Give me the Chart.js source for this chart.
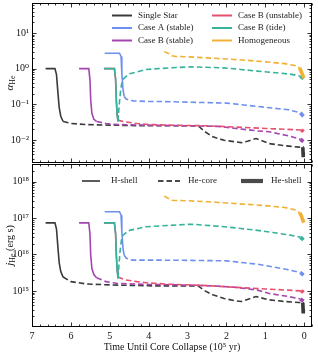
<!DOCTYPE html>
<html><head><meta charset="utf-8">
<script src="https://cdn.jsdelivr.net/npm/chart.js@4.4.0/dist/chart.umd.min.js"></script>
<style>
html,body{margin:0;padding:0;background:#fff;width:318px;height:356px;overflow:hidden}
canvas{position:absolute;left:0;top:0}
</style></head><body>
<canvas id="c1" width="318" height="356"></canvas>
<canvas id="c2" width="318" height="356"></canvas>
<script>
// ---------------- data (time in 1e5 yr until core collapse) ----------------
const seriesNames = ['Single Star','Case A (stable)','Case B (stable)','Case B (unstable)','Case B (tide)','Homogeneous'];
const phaseNames = ['H-shell','He-core','He-shell'];
const xTickValues = [0,1,2,3,4,5,6,7];

// Single star
const tSingleH = [6.65,6.41,6.37,6.33,6.30,6.26,6.20];
const aSingleH = [1,1,0.68,0.19,0.08,0.046,0.033];
const jSingleH = [7.4e16,7.4e16,5e16,1.4e16,5.9e15,3.4e15,2.4e15];
const tSingleC = [6.20,6.0,5.6,5.0,4.0,3.2,2.73,2.55,2.35,2.06,1.75,1.62,1.46,1.24,0.9,0.5,0.13,0.05];
const aSingleC = [0.033,0.029,0.027,0.026,0.025,0.025,0.025,0.017,0.0122,0.0098,0.0088,0.0084,0.0092,0.011,0.0079,0.0069,0.0063,0.0062];
const jSingleC = [2.4e15,1.8e15,1.55e15,1.46e15,1.38e15,1.37e15,1.37e15,1.0e15,7.8e14,6.2e14,5.3e14,5.1e14,5.8e14,7e14,5.7e14,5.1e14,4.8e14,4.7e14];
const tSingleS = [0.05,0.035,0.03,0.025];
const aSingleS = [0.0062,0.006,0.0045,0.0033];
const jSingleS = [4.7e14,4.5e14,3.2e14,2.4e14];

// Case A (stable)
const tCaseAH = [5.13,4.75,4.71,4.69,4.66,4.63];
const aCaseAH = [2.7,2.7,2.2,0.76,0.26,0.166];
const jCaseAH = [1.5e17,1.5e17,1.2e17,4.2e16,1.45e16,9.6e15];
const tCaseAC = [4.63,4.58,4.5,4.4,4.0,3.7,3.0,2.0,1.2,0.4,0.1];
const aCaseAC = [0.166,0.14,0.13,0.125,0.12,0.12,0.115,0.108,0.087,0.07,0.058];
const jCaseAC = [9.6e15,8e15,7.3e15,7e15,7e15,7e15,6.9e15,6.7e15,5.4e15,3.8e15,3.2e15];
const tCaseAS = [0.1,0.05,0.02];
const aCaseAS = [0.058,0.05,0.046];
const jCaseAS = [3.2e15,2.9e15,2.7e15];

// Case B (stable)
const tCaseBsH = [5.79,5.54,5.51,5.49,5.46,5.41,5.34];
const aCaseBsH = [1,1,0.5,0.13,0.056,0.038,0.033];
const jCaseBsH = [7.4e16,7.4e16,3.7e16,9.6e15,4.1e15,2.8e15,2.3e15];
const tCaseBsC = [5.34,5.1,4.8,4.0,3.0,2.2,1.75,1.2,0.9,0.4,0.1];
const aCaseBsC = [0.033,0.029,0.027,0.026,0.025,0.024,0.021,0.018,0.017,0.013,0.0105];
const jCaseBsC = [2.3e15,1.8e15,1.6e15,1.5e15,1.45e15,1.35e15,1.25e15,1.05e15,8.5e14,7e14,6e14];
const tCaseBsS = [0.1,0.05,0.02];
const aCaseBsS = [0.0105,0.0095,0.009];
const jCaseBsS = [6e14,5.5e14,5.2e14];

// Case B (unstable)
const tCaseBuH = [5.15,4.88,4.85,4.83,4.81,4.79];
const aCaseBuH = [1,1,0.5,0.12,0.05,0.036];
const jCaseBuH = [7.4e16,7.4e16,3.7e16,8.9e15,3.7e15,2.6e15];
const tCaseBuC = [4.79,4.6,4.3,4.0,3.46,2.5,1.75,1.0,0.5,0.08];
const aCaseBuC = [0.036,0.032,0.029,0.027,0.026,0.025,0.023,0.021,0.020,0.019];
const jCaseBuC = [2.4e15,2.0e15,1.8e15,1.65e15,1.52e15,1.4e15,1.25e15,1.13e15,1.06e15,1.0e15];
const tCaseBuS = [0.08,0.04,0.02];
const aCaseBuS = [0.019,0.018,0.017];
const jCaseBuS = [1.0e15,9.5e14,9e14];

// Case B (tide)
const tTideH = [5.15,4.88,4.85,4.83,4.81,4.79];
const aTideH = [1,1,0.5,0.12,0.05,0.033];
const jTideH = [7.4e16,7.4e16,3.7e16,8.9e15,3.7e15,2.2e15];
const tTideC = [4.79,4.76,4.73,4.70,4.66,4.55,4.49,4.06,3.46,2.9,2.06,1.64,1.2,0.8,0.36,0.1];
const aTideC = [0.033,0.09,0.2,0.35,0.5,0.65,0.72,0.95,1.05,1.12,1.05,0.95,0.85,0.78,0.7,0.62];
const jTideC = [2.2e15,6e15,1.4e16,2.5e16,3.4e16,4.2e16,4.6e16,5.8e16,6.3e16,6.8e16,5.8e16,5.2e16,4.6e16,4e16,3.4e16,3e16];
const tTideS = [0.1,0.05,0.02];
const aTideS = [0.62,0.56,0.52];
const jTideS = [3e16,2.7e16,2.5e16];

// Homogeneous
const tHomC = [3.6,3.5,3.4,3.3,3.0,2.5,2.0,1.5,1.0,0.5,0.2,0.12];
const aHomC = [3.0,2.7,2.3,2.2,2.15,2.0,1.87,1.72,1.55,1.38,1.2,1.05];
const jHomC = [4e17,3.5e17,3.1e17,3.05e17,3e17,2.8e17,2.6e17,2.4e17,2.2e17,1.95e17,1.65e17,1.4e17];
const tHomS = [0.12,0.08,0.04,0.01];
const aHomS = [1.05,0.85,0.65,0.55];
const jHomS = [1.4e17,1.2e17,9e16,7.5e16];

// ---------------- styling ----------------
const COLORS = ['#3a3a3a','#6f8ff0','#a545b2','#e64f6d','#35b49b','#f1b136'];
const FONT = '"Liberation Serif","DejaVu Serif",serif';

const series = [
  {H:[tSingleH,aSingleH,jSingleH], C:[tSingleC,aSingleC,jSingleC], S:[tSingleS,aSingleS,jSingleS]},
  {H:[tCaseAH,aCaseAH,jCaseAH], C:[tCaseAC,aCaseAC,jCaseAC], S:[tCaseAS,aCaseAS,jCaseAS]},
  {H:[tCaseBsH,aCaseBsH,jCaseBsH], C:[tCaseBsC,aCaseBsC,jCaseBsC], S:[tCaseBsS,aCaseBsS,jCaseBsS]},
  {H:[tCaseBuH,aCaseBuH,jCaseBuH], C:[tCaseBuC,aCaseBuC,jCaseBuC], S:[tCaseBuS,aCaseBuS,jCaseBuS]},
  {H:[tTideH,aTideH,jTideH], C:[tTideC,aTideC,jTideC], S:[tTideS,aTideS,jTideS]},
  {H:null, C:[tHomC,aHomC,jHomC], S:[tHomS,aHomS,jHomS]}
];
const PHASE_STYLE = {
  H:{borderWidth:1.6, borderDash:[]},
  C:{borderWidth:1.6, borderDash:[5.5,3]},
  S:{borderWidth:3.6, borderDash:[]}
};

function xy(t, v){ return t.map((x,i)=>({x:x, y:v[i]})); }

function buildDatasets(k){ // k=1 alpha, k=2 j
  const out = [];
  let ord = 0;
  series.forEach((s, i)=>{
    ['H','C','S'].forEach(p=>{
      if(!s[p]) return;
      out.push(Object.assign({
        label: seriesNames[i] + ' ' + p,
        data: xy(s[p][0], s[p][k]),
        borderColor: COLORS[i],
        backgroundColor: COLORS[i],
        pointRadius: 0,
        fill: false,
        tension: 0,
        order: -(ord++)
      }, PHASE_STYLE[p]));
    });
  });
  return out;
}

const SUP = {'-':'\u207B','0':'\u2070','1':'\u00B9','2':'\u00B2','3':'\u00B3','4':'\u2074','5':'\u2075','6':'\u2076','7':'\u2077','8':'\u2078','9':'\u2079'};
function sci(v){
  const e = Math.round(Math.log10(v));
  return '10' + String(e).split('').map(c=>SUP[c]).join('');
}
function decadeTicks(scale){
  const lo = Math.ceil(Math.log10(scale.min)-1e-9), hi = Math.floor(Math.log10(scale.max)+1e-9);
  const t = [];
  for(let e=lo;e<=hi;e++) t.push({value: Math.pow(10,e), major:true});
  scale.ticks = t;
}
function intTicks(scale){ scale.ticks = xTickValues.map(v=>({value:v})); }
function fixW(scale){ scale.width = 32; scale.paddingTop=0; scale.paddingBottom=0; scale.paddingLeft=0; scale.paddingRight=0; }
function fixH(scale){ scale.height = 29; scale.paddingLeft=0; scale.paddingRight=0; scale.paddingTop=0; scale.paddingBottom=0; }

// frame + inward ticks + titles + legends
function framePlugin(which){
  return {
    id:'frame'+which,
    afterDraw(chart){
      const ctx = chart.ctx, a = chart.chartArea, xs = chart.scales.x, ys = chart.scales.y;
      const L = Math.round(a.left)+0.5, R = Math.round(a.right)-0.5, T = Math.round(a.top)+0.5, B = Math.round(a.bottom)-0.5;
      ctx.save();
      ctx.strokeStyle = '#000'; ctx.lineWidth = 1;
      ctx.strokeRect(L, T, R-L, B-T);
      ctx.lineWidth = 0.8;
      ctx.beginPath();
      for(let k=-1;k<=35;k++){
        const v = k*0.2; if(v < xs.min-1e-9 || v > xs.max+1e-9) continue;
        const px = Math.round(xs.getPixelForValue(v))+0.5;
        const len = (k%5===0) ? 4 : 2;
        ctx.moveTo(px, B); ctx.lineTo(px, B-len);
        ctx.moveTo(px, T); ctx.lineTo(px, T+len);
      }
      const e0 = Math.floor(Math.log10(ys.min)), e1 = Math.ceil(Math.log10(ys.max));
      for(let e=e0;e<=e1;e++){
        for(let m=1;m<=9;m++){
          const v = m*Math.pow(10,e); if(v < ys.min || v > ys.max) continue;
          const py = Math.round(ys.getPixelForValue(v))+0.5;
          const len = (m===1) ? 4 : 2;
          ctx.moveTo(L, py); ctx.lineTo(L+len, py);
          ctx.moveTo(R, py); ctx.lineTo(R-len, py);
        }
      }
      ctx.stroke();

      // y axis title
      const cy = (a.top + a.bottom)/2;
      ctx.fillStyle = '#111';
      ctx.textBaseline = 'middle';
      const parts = which===1
        ? [{t:'\u03B1', f:'italic 11px '+FONT, dy:0},{t:'He', f:'8px '+FONT, dy:3}]
        : [{t:'j', f:'italic 11px '+FONT, dy:0},{t:'He', f:'8px '+FONT, dy:3},{t:' (erg s)', f:'10px '+FONT, dy:0}];
      let tw = 0; parts.forEach(p=>{ ctx.font=p.f; p.w = ctx.measureText(p.t).width; tw += p.w; });
      ctx.translate(10, cy); ctx.rotate(-Math.PI/2);
      let x = -tw/2;
      parts.forEach(p=>{ ctx.font=p.f; ctx.textAlign='left'; ctx.fillText(p.t, x, p.dy); x += p.w; });
      ctx.setTransform(1,0,0,1,0,0);

      // legends
      ctx.font = '9px '+FONT; ctx.textAlign='left'; ctx.textBaseline='middle'; ctx.fillStyle='#222';
      if(which===1){
        const rows = [15.5, 28, 40.5];
        seriesNames.forEach((n,i)=>{
          const col = i<3 ? 0 : 1, r = i%3;
          const x0 = col===0 ? 112 : 212;
          ctx.strokeStyle = COLORS[i]; ctx.lineWidth = 2; ctx.setLineDash([]);
          ctx.beginPath(); ctx.moveTo(x0, rows[r]); ctx.lineTo(x0+20, rows[r]); ctx.stroke();
          ctx.fillText(n, x0+26, rows[r]);
        });
      } else {
        const y = 181;
        const items = [[82,18,PHASE_STYLE.H],[158,22,PHASE_STYLE.C],[241,22,PHASE_STYLE.S]];
        items.forEach((it,i)=>{
          ctx.strokeStyle = '#4a4a4a'; ctx.lineWidth = it[2].borderWidth===1.6?1.8:it[2].borderWidth+0.6;
          ctx.setLineDash(it[2].borderDash);
          ctx.beginPath(); ctx.moveTo(it[0], y); ctx.lineTo(it[0]+it[1], y); ctx.stroke();
          ctx.setLineDash([]);
          ctx.fillText(phaseNames[i], it[0]+it[1]+ (i===0?11:8), y);
        });
      }
      ctx.restore();
    }
  };
}

const commonY = (min,max)=>({
  type:'logarithmic', min:min, max:max,
  afterBuildTicks: decadeTicks,
  afterFit: fixW,
  ticks:{callback:(v)=>sci(v), font:{family:FONT, size:10}, color:'#111', padding:3, autoSkip:false},
  grid:{display:false, drawTicks:false},
  border:{display:false}
});

new Chart(document.getElementById('c1'), {
  type:'line',
  data:{datasets: buildDatasets(1)},
  options:{
    responsive:false, animation:false, devicePixelRatio:1,
    layout:{padding:{top:3, right:6, bottom:193, left:0}},
    plugins:{legend:{display:false}, tooltip:{enabled:false}},
    scales:{
      x:{type:'linear', reverse:true, min:-0.2, max:7, display:false},
      y: commonY(0.00226, 69.3)
    }
  },
  plugins:[framePlugin(1)]
});

new Chart(document.getElementById('c2'), {
  type:'line',
  data:{datasets: buildDatasets(2)},
  options:{
    responsive:false, animation:false, devicePixelRatio:1,
    layout:{padding:{top:164, right:6, bottom:0, left:0}},
    plugins:{legend:{display:false}, tooltip:{enabled:false}},
    scales:{
      x:{type:'linear', reverse:true, min:-0.2, max:7,
        afterBuildTicks: intTicks, afterFit: fixH,
        ticks:{callback:(v)=>String(v), font:{family:FONT, size:10}, color:'#111', padding:3, maxRotation:0, autoSkip:false},
        grid:{display:false, drawTicks:false}, border:{display:false},
        title:{display:true, text:'Time Until Core Collapse (10\u2075 yr)', font:{family:FONT, size:10}, color:'#111', padding:{top:0,bottom:3}}
      },
      y: commonY(1.02e14, 3.06e18)
    }
  },
  plugins:[framePlugin(2)]
});
</script>
</body></html>
